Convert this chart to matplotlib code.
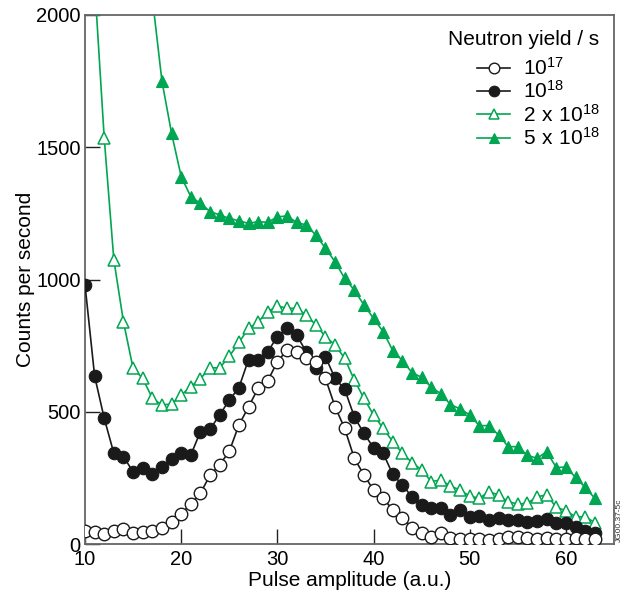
import numpy as np
import matplotlib
matplotlib.use("Agg")
import matplotlib.pyplot as plt

plt.rcParams['font.family'] = ['Liberation Sans', 'DejaVu Sans']
plt.rcParams['mathtext.fontset'] = 'custom'
plt.rcParams['mathtext.rm'] = 'Liberation Sans'

nan = np.nan
amplitude = np.arange(10, 64)

yield_1e17 = [50, 45, 37, 50, 55, 43, 45, 48, 62, 82,
              115, 150, 192, 260, 300, 350, 450, 518, 589, 617,
              689, 733, 727, 702, 689, 626, 519, 437, 324, 261,
              204, 173, 129, 99, 62, 40, 28, 41, 23, 20,
              19, 20, 17, 20, 25, 28, 22, 20, 22, 20,
              18, 22, 18, 18]

yield_1e18 = [980, 635, 475, 343, 330, 273, 286, 265, 292, 320,
              345, 336, 425, 434, 488, 544, 591, 697, 696, 727,
              784, 815, 790, 727, 664, 708, 626, 585, 481, 418,
              364, 343, 263, 223, 178, 147, 137, 137, 110, 129,
              101, 106, 91, 97, 91, 91, 84, 88, 93, 81,
              78, 65, 50, 40]

yield_2e18 = [nan, 2120, 1534, 1074, 840, 664, 626, 551, 526, 529,
              563, 595, 625, 666, 666, 709, 762, 815, 840, 878,
              900, 891, 891, 866, 828, 784, 752, 702, 620, 551,
              488, 437, 387, 343, 308, 280, 236, 242, 219, 204,
              181, 173, 198, 185, 160, 151, 154, 179, 185, 139,
              126, 103, 103, 81]

yield_5e18 = [nan, nan, nan, nan, nan, nan, nan, 2065, 1750, 1553,
              1389, 1313, 1288, 1257, 1244, 1231, 1222, 1212, 1219, 1216,
              1237, 1240, 1216, 1206, 1168, 1118, 1067, 1004, 960, 904,
              853, 803, 731, 693, 648, 630, 593, 568, 527, 511,
              488, 447, 448, 412, 368, 368, 335, 324, 349, 289,
              291, 252, 214, 173]

labels = [r'$\mathregular{10^{17}}$', r'$\mathregular{10^{18}}$',
          r'$\mathregular{2\ x\ 10^{18}}$', r'$\mathregular{5\ x\ 10^{18}}$']

green = '#00a651'

fig = plt.figure(figsize=(6.23, 5.94), dpi=100)
ax = fig.add_axes([85/623, 1-544/594, (614-85)/623, (544-15)/594])

h4, = ax.plot(amplitude, yield_5e18, '-^', color=green, lw=1.2, ms=9,
              mfc=green, mec=green, mew=0.8, label=labels[3], zorder=2)
h3, = ax.plot(amplitude, yield_2e18, '-^', color=green, lw=1.2, ms=9,
              mfc='white', mec=green, mew=1.1, label=labels[2], zorder=3)
h2, = ax.plot(amplitude, yield_1e18, '-o', color='#1a1a1a', lw=1.2, ms=9,
              mfc='#1a1a1a', mec='#1a1a1a', mew=0.8, label=labels[1], zorder=4)
h1, = ax.plot(amplitude, yield_1e17, '-o', color='#1a1a1a', lw=1.2, ms=9,
              mfc='white', mec='#1a1a1a', mew=1.0, label=labels[0], zorder=5)

ax.set_xlim(10, 65)
ax.set_ylim(0, 2000)
ax.set_xticks([10, 20, 30, 40, 50, 60])
ax.set_yticks([0, 500, 1000, 1500, 2000])
ax.tick_params(direction='in', length=11, width=1, labelsize=14.5, pad=4,
               color='#222222')
ax.tick_params(axis='y', pad=3)
for s in ax.spines.values():
    s.set_color('#666666')
    s.set_linewidth(1.3)

ax.set_xlabel('Pulse amplitude (a.u.)', fontsize=15, labelpad=2)
ax.set_ylabel('Counts per second', fontsize=15, labelpad=1)

leg = ax.legend(handles=[h1, h2, h3, h4], title='Neutron yield / s',
                loc='upper right', frameon=False, fontsize=15,
                title_fontsize=15, handlelength=1.6, handletextpad=0.6,
                labelspacing=0.07, borderaxespad=0.3, alignment='right',
                bbox_to_anchor=(1.0, 1.0), markerscale=0.85)
leg._legend_box.sep = 6

fig.text(615.5/623, 1-520/594, 'JG00.37-5c', rotation=90, fontsize=6,
         ha='left', va='center', color='#333333')

fig.savefig('out.png', dpi=100)
